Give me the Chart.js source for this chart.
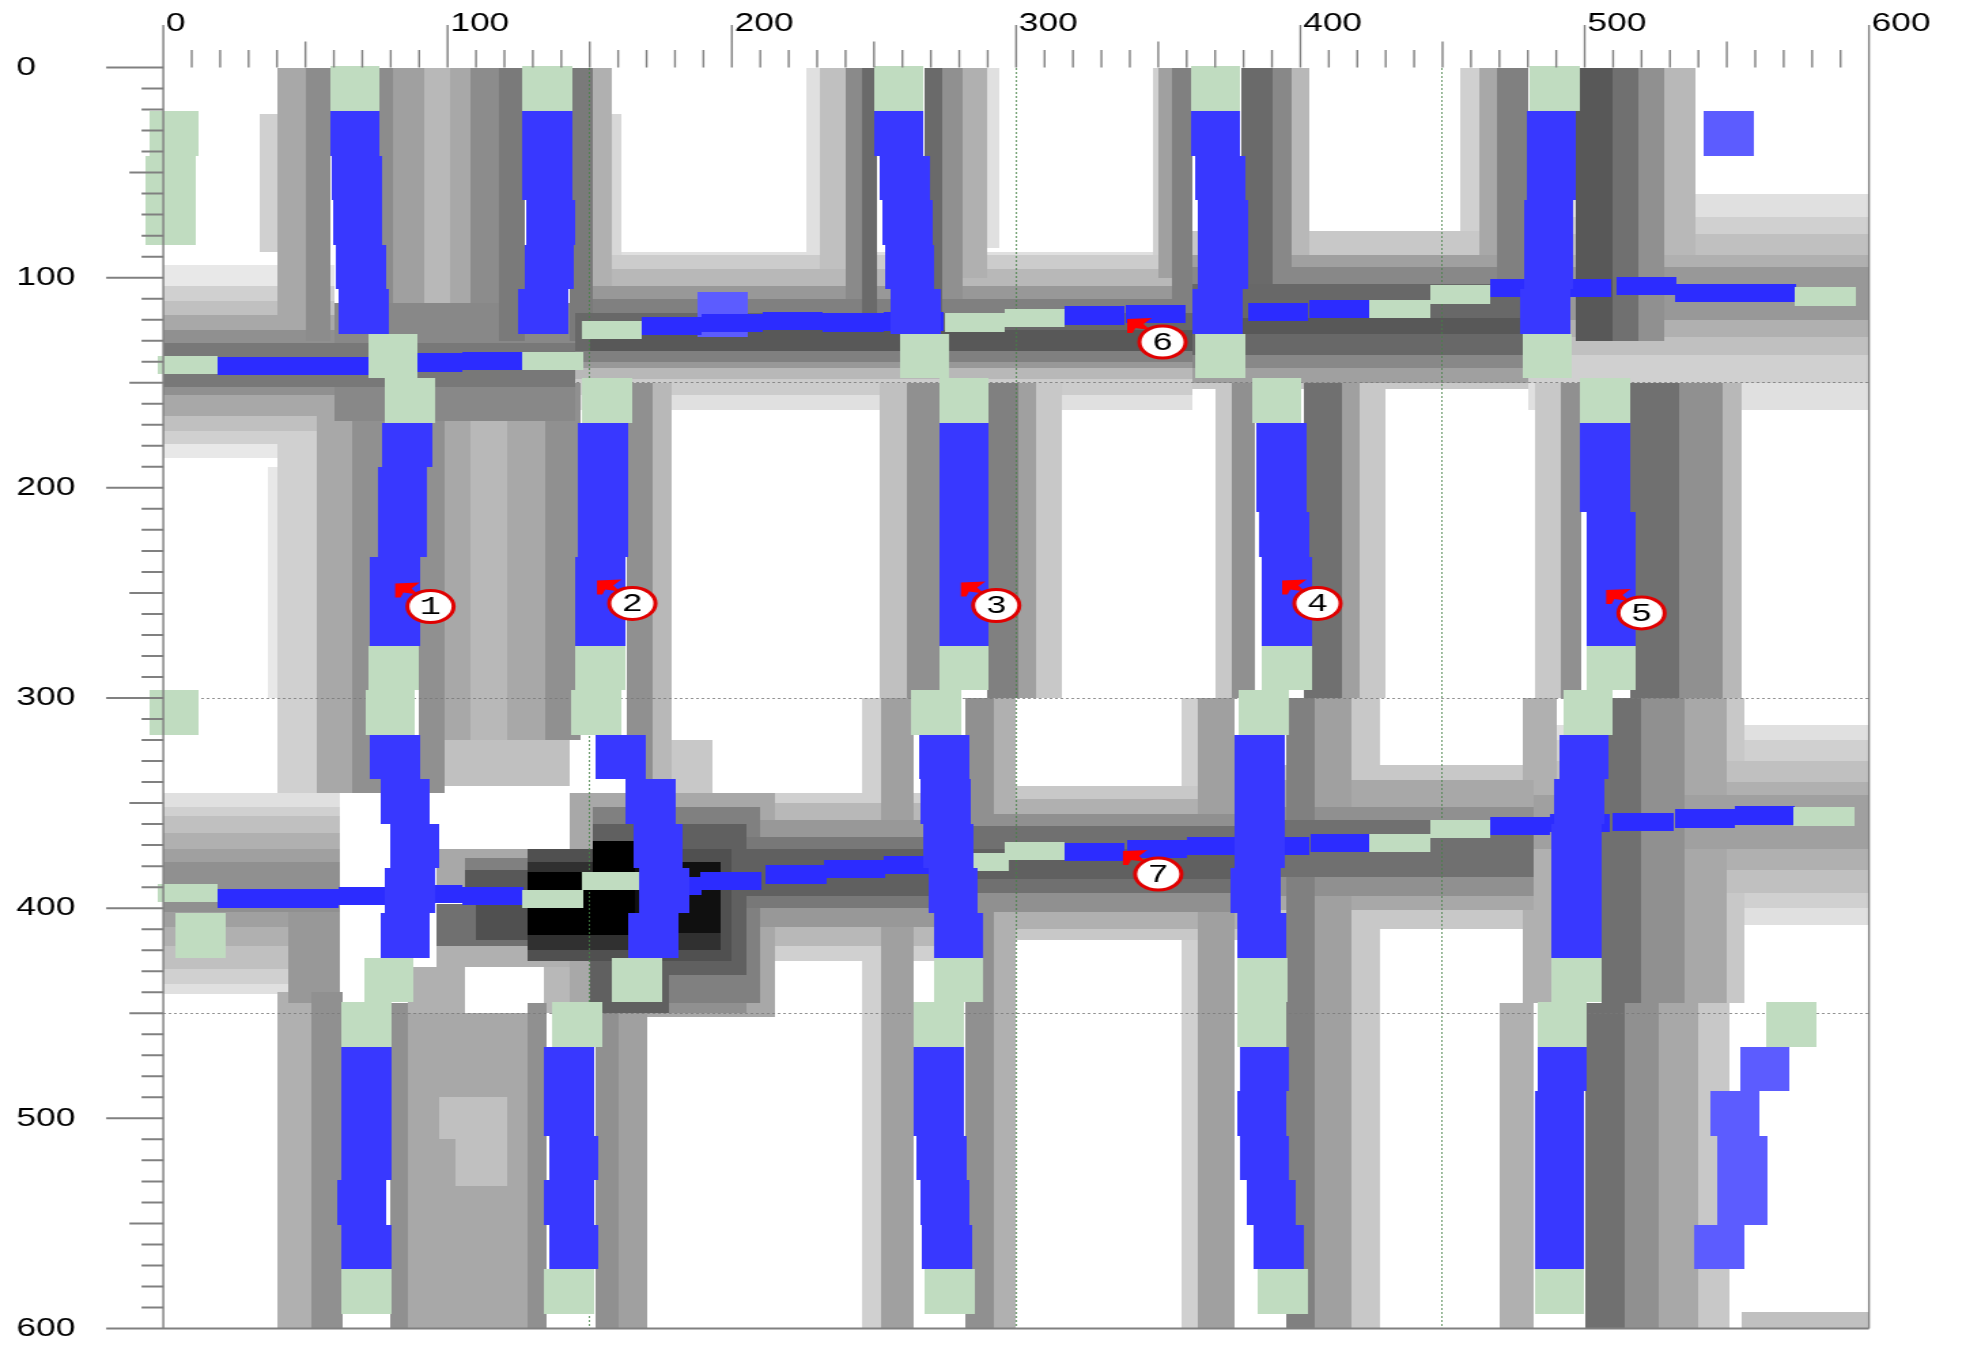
<!DOCTYPE html>
<html lang="en">
<head>
  <meta charset="UTF-8" />
  <title>Road map</title>
  <script src="https://cdn.jsdelivr.net/npm/chart.js"></script>
  <style>
    body {
      margin: 0;
      background: #ffffff;
    }
  </style>
</head>
<body>
  <!-- the source picture is stretched sideways, so the canvas is too -->
  <canvas id="mapa" width="1446" height="1345" style="display:block;width:1966px;height:1345px"></canvas>

  <script>
    // axis labels and dotted grid positions
    const tickLabels = [0, 100, 200, 300, 400, 500, 600];
    const gridDotted = [150, 300, 450];

    // numbered markers (circle centre, data units)
    const markerX = [94, 165, 293, 406, 520, 351.5, 350];
    const markerY = [256.5, 255, 256, 255, 259.5, 130.6, 383.8];
    const markerLabels = ['1', '2', '3', '4', '5', '6', '7'];

    // vertical road cells: [left x, top y, kind]  g = green, b = blue, l = light blue
    const roadA = [
      [58.6, -0.5, 'g'], [58.6, 20.7, 'b'], [59.4, 41.9, 'b'], [59.6, 63.1, 'b'], [60.7, 84.3, 'b'], [61.8, 105.5, 'b'],
      [72, 126.7, 'g'],
      [78, 147.9, 'g'], [77, 169.1, 'b'], [75.3, 190.3, 'b'], [75.3, 211.5, 'b'], [72.7, 232.7, 'b'], [72.7, 253.9, 'b'],
      [72.3, 275.1, 'g'], [71, 296.3, 'g'], [72.7, 317.5, 'b'], [76.3, 338.7, 'b'], [79.6, 359.9, 'b'], [78, 381.1, 'b'], [76.3, 402.3, 'b'], [70.5, 423.5, 'g'],
      [62.6, 444.7, 'g'], [62.6, 465.9, 'b'], [62.6, 487.1, 'b'], [62.6, 508.3, 'b'], [61, 529.5, 'b'], [62.6, 550.7, 'b'], [62.6, 571.9, 'g']
    ];
    const roadB = [
      [126.3, -0.5, 'g'], [126.3, 20.7, 'b'], [126.3, 41.9, 'b'], [127.5, 63.1, 'b'], [127, 84.3, 'b'], [125, 105.5, 'b'],
      [147.3, 147.9, 'g'], [146, 169.1, 'b'], [146, 190.3, 'b'], [146, 211.5, 'b'], [145, 232.7, 'b'], [145, 253.9, 'b'],
      [145, 275.1, 'g'], [143.5, 296.3, 'g'], [152, 317.5, 'b'], [162.7, 338.7, 'b'], [165.3, 359.9, 'b'], [167.5, 381.1, 'b'], [163.6, 402.3, 'b'], [158, 423.5, 'g'],
      [136.8, 444.7, 'g'], [134.1, 465.9, 'b'], [134.1, 487.1, 'b'], [135.7, 508.3, 'b'], [134.1, 529.5, 'b'], [135.7, 550.7, 'b'], [134.1, 571.9, 'g']
    ];
    const roadC = [
      [250, -0.5, 'g'], [250, 20.7, 'b'], [252, 41.9, 'b'], [253, 63.1, 'b'], [253.7, 84.3, 'b'], [256, 105.5, 'b'],
      [259, 126.7, 'g'],
      [273, 147.9, 'g'], [273, 169.1, 'b'], [273, 190.3, 'b'], [273, 211.5, 'b'], [273, 232.7, 'b'], [273, 253.9, 'b'],
      [273, 275.1, 'g'], [263, 296.3, 'g'], [266, 317.5, 'b'], [266.5, 338.7, 'b'], [267.5, 359.9, 'b'], [269, 381.1, 'b'], [271, 402.3, 'b'], [271, 423.5, 'g'],
      [264, 444.7, 'g'], [264, 465.9, 'b'], [264, 487.1, 'b'], [265, 508.3, 'b'], [266.3, 529.5, 'b'], [267, 550.7, 'b'], [268, 571.9, 'g']
    ];
    const roadD = [
      [361.3, -0.5, 'g'], [361.3, 20.7, 'b'], [363, 41.9, 'b'], [364, 63.1, 'b'], [364, 84.3, 'b'], [362, 105.5, 'b'],
      [363, 126.7, 'g'],
      [383, 147.9, 'g'], [384.5, 169.1, 'b'], [384.5, 190.3, 'b'], [385.5, 211.5, 'b'], [386.6, 232.7, 'b'], [386.6, 253.9, 'b'],
      [386.6, 275.1, 'g'], [378.4, 296.3, 'g'], [377, 317.5, 'b'], [377, 338.7, 'b'], [377, 359.9, 'b'], [375.4, 381.1, 'b'], [377.6, 402.3, 'b'], [378, 423.5, 'g'],
      [377.6, 444.7, 'g'], [378.6, 465.9, 'b'], [377.6, 487.1, 'b'], [378.6, 508.3, 'b'], [381, 529.5, 'b'], [383.5, 550.7, 'b'], [385, 571.9, 'g']
    ];
    const roadE = [
      [480.6, -0.5, 'g'], [479.6, 20.7, 'b'], [479.6, 41.9, 'b'], [478.5, 63.1, 'b'], [478.5, 84.3, 'b'], [477.5, 105.5, 'b'],
      [478, 126.7, 'g'],
      [498.4, 147.9, 'g'], [498.4, 169.1, 'b'], [498.4, 190.3, 'b'], [500.6, 211.5, 'b'], [500.6, 232.7, 'b'], [500.6, 253.9, 'b'],
      [500.6, 275.1, 'g'], [492.5, 296.3, 'g'], [491, 317.5, 'b'], [489.4, 338.7, 'b'], [488.5, 359.9, 'b'], [488.3, 381.1, 'b'], [488.3, 402.3, 'b'], [488.3, 423.5, 'g'],
      [483.4, 444.7, 'g'], [483.4, 465.9, 'b'], [482.3, 487.1, 'b'], [482.3, 508.3, 'b'], [482.3, 529.5, 'b'], [482.3, 550.7, 'b'], [482.3, 571.9, 'g']
    ];
    const looseCells = [
      [-5, 20.7, 'g'], [-6.1, 41.9, 'g'], [-6.1, 63.1, 'g'], [-5, 296.3, 'g'], [4.3, 402.3, 'g'],
      [542, 20.7, 'l'],
      [564, 444.7, 'g'], [554.6, 465.9, 'l'], [544, 487.1, 'l'], [546.6, 508.3, 'l'], [546.6, 529.5, 'l'], [538.6, 550.7, 'l']
    ];
    const hiddenCells = [[188, 107, 'l']];

    // horizontal road cells: [left x, top y, kind]
    const crossUpper = [
      [-2, 137.3, 'g'], [19.3, 137.8, 'b'], [40.5, 137.8, 'b'], [61.6, 137.8, 'b'], [84, 136, 'b'], [105.2, 135.4, 'b'], [126.3, 135.4, 'g'],
      [147.3, 120.6, 'g'], [168.3, 118.8, 'b'], [189.5, 117.3, 'b'], [210.8, 116.3, 'b'], [232, 117, 'b'], [253.2, 116.5, 'b'],
      [275, 117, 'g'], [296, 115, 'g'], [317, 113.6, 'b'], [338.5, 113, 'b'], [381.5, 112, 'b'], [403.2, 110.5, 'b'], [424.4, 110.5, 'g'],
      [445.5, 103.7, 'g'], [466.6, 100.6, 'b'], [488, 100.5, 'b'], [511, 99.6, 'b'], [532, 103, 'b'], [553, 103, 'b'], [574, 104.6, 'g']
    ];
    const crossLower = [
      [-2, 388.6, 'g'], [19.3, 391, 'b'], [40.5, 391, 'b'], [61.6, 390, 'b'], [84, 389, 'b'], [105.4, 390, 'b'], [126.3, 391.4, 'g'],
      [147.3, 382.7, 'g'], [168.3, 385, 'b'], [189, 382.7, 'b'], [212, 379.6, 'b'], [232.5, 377, 'b'], [253.6, 375, 'b'],
      [276, 373.7, 'g'], [296, 368.5, 'g'], [317, 369, 'b'], [339, 367.5, 'b'], [360, 366, 'b'], [381.7, 366, 'b'], [403.7, 364.6, 'b'], [424.4, 364.6, 'g'],
      [445.5, 358, 'g'], [466.6, 356.7, 'b'], [487.6, 355, 'b'], [510, 354.5, 'b'], [531.7, 353, 'b'], [552.7, 351.5, 'b'], [573.6, 352, 'g']
    ];

    // grey cost map: [x0, x1, y0, y1, grey level]
    const shadeTop = [
      [34, 40, 22, 88, 208], [40, 50, 0, 130, 168], [50, 59, 0, 130, 140], [76, 81, 0, 130, 140], [81, 92, 0, 130, 160],
      [92, 101, 0, 130, 184], [101, 108, 0, 130, 168], [108, 118, 0, 130, 140], [118, 127, 0, 130, 122], [143, 151, 0, 130, 122],
      [151, 158, 0, 130, 176], [158, 161, 22, 90, 216],
      [226, 231, 0, 100, 224], [231, 240, 0, 100, 192], [240, 246, 0, 130, 138], [246, 251, 0, 130, 106], [268, 274, 0, 130, 106],
      [274, 281, 0, 130, 144], [281, 290, 0, 100, 176], [290, 294, 0, 86, 224],
      [348, 350, 0, 100, 208], [350, 355, 0, 100, 160], [355, 362, 0, 130, 128], [379, 390, 0, 130, 106], [390, 397, 0, 130, 136],
      [397, 403, 0, 100, 184],
      [456, 463, 0, 100, 208], [463, 469, 0, 100, 168], [469, 480, 0, 130, 128], [497, 510, 0, 130, 88], [510, 519, 0, 130, 112],
      [519, 528, 0, 130, 144], [528, 539, 0, 100, 184]
    ];
    const shadeBandTop = [
      [0, 60, 94, 186, 232], [0, 60, 104, 179, 208], [0, 60, 111, 173, 192], [0, 60, 118, 166, 168], [0, 60, 125, 156, 144],
      [0, 145, 131, 152, 120], [60, 145, 112, 131, 136], [60, 145, 152, 168, 136],
      [145, 362, 88, 163, 224], [145, 362, 89, 156, 204], [145, 362, 96, 148, 184], [145, 362, 104, 143, 152],
      [145, 362, 110, 140, 128], [145, 362, 117, 135, 104], [150, 362, 125, 135, 88],
      [362, 480, 78, 153, 200], [362, 480, 89, 150, 160], [362, 480, 95, 143, 136], [362, 480, 103, 137, 104], [362, 480, 119, 127, 88],
      [480, 600, 60, 163, 224], [480, 600, 71, 150, 208], [480, 600, 79, 137, 192], [480, 600, 89, 128, 176], [480, 600, 95, 120, 152]
    ];
    const shadeMid = [
      [36.6, 40, 190, 300, 232], [40, 54, 150, 345, 208], [54, 66.6, 150, 345, 168], [66.6, 78, 150, 345, 144],
      [90, 99, 150, 345, 144], [99, 108, 150, 320, 168], [108, 121, 150, 320, 184], [121, 134.5, 150, 320, 168], [134.5, 147, 150, 320, 144],
      [99, 143, 320, 342, 192], [163, 172, 150, 345, 144], [172, 179, 150, 345, 184], [179, 193, 320, 350, 200],
      [252, 261.5, 150, 300, 192], [261.5, 273, 150, 300, 144], [290, 301, 150, 300, 128], [301, 307, 150, 300, 160], [307, 316, 150, 300, 200],
      [370, 376, 150, 300, 200], [376, 384, 150, 300, 144], [401, 414.5, 150, 300, 112], [414.5, 421, 150, 300, 160], [421, 430, 150, 300, 200],
      [482.6, 491.4, 150, 300, 200], [491.4, 499, 150, 300, 144], [516, 533, 150, 300, 112], [533, 548.5, 150, 300, 144], [548.5, 555, 150, 300, 184]
    ];
    const shadeBandLow = [
      [0, 62, 345, 441, 224], [0, 62, 352, 436, 208], [0, 62, 356, 429, 192], [0, 62, 364, 418, 176], [0, 62, 372, 409, 160],
      [0, 62, 378, 402, 144], [44, 62, 400, 445, 152],
      [96, 128, 372, 392, 168], [106, 128, 376, 392, 128], [106, 128, 382, 392, 88],
      [96, 128, 398, 418, 112], [110, 128, 398, 415, 80], [96, 150, 418, 428, 176], [86, 106, 428, 450, 176], [134, 143, 428, 450, 184],
      [143, 215, 345, 452, 168], [151, 210, 352, 445, 128], [151, 205, 360, 432, 96], [128, 200, 372, 425, 80],
      [128, 196, 378, 420, 48], [166, 196, 378, 412, 16], [128, 166, 383, 413, 0], [151, 166, 368, 413, 0],
      [150, 178, 420, 450, 96], [178, 205, 420, 450, 144],
      [195, 275, 345, 425, 208], [195, 275, 350, 418, 184], [195, 275, 358, 409, 152], [195, 275, 366, 400, 120], [195, 275, 372, 394, 96],
      [275, 380, 342, 415, 200], [275, 380, 348, 410, 176], [275, 380, 355, 402, 144], [275, 380, 361, 393, 112], [275, 380, 372, 386, 96],
      [380, 482, 332, 410, 200], [380, 482, 339, 401, 168], [380, 482, 352, 394, 144], [380, 482, 358, 385, 112],
      [482, 600, 313, 408, 224], [482, 600, 320, 400, 208], [482, 600, 330, 393, 192], [482, 600, 340, 382, 176], [482, 600, 346, 372, 160]
    ];
    const shadeLow = [
      [40, 52, 440, 600, 176], [52, 63, 440, 600, 144], [80, 86, 445, 600, 144], [86, 128, 450, 600, 168], [128, 135, 445, 600, 144],
      [152, 160, 445, 600, 144], [160, 170, 445, 600, 160],
      [246, 252.5, 300, 600, 208], [252.5, 264, 300, 600, 160], [282, 292, 300, 600, 144], [292, 300, 300, 600, 176],
      [358, 364, 300, 600, 208], [364, 377, 300, 600, 160], [395, 405, 300, 600, 128], [405, 418, 300, 600, 160], [418, 428, 300, 600, 200],
      [478, 490, 300, 445, 176], [506, 520, 300, 445, 112], [520, 535, 300, 445, 144], [535, 550, 300, 445, 168], [550, 556, 300, 445, 200],
      [470, 482, 445, 600, 176], [500, 514, 445, 600, 112], [514, 526, 445, 600, 144], [526, 540, 445, 600, 168], [540, 551, 445, 600, 200],
      [555, 600, 592, 600, 192]
    ];
    // lighter patches that sit inside darker strips
    const shadePatch = [
      [97, 121, 490, 510, 192], [103, 121, 510, 532, 192]
    ];

    const cellColor = { g: '#c0dcc0', b: '#3838ff', l: '#5c5cff' };
    const crossBlue = '#2c2cff';

    function px(chart, v) { return Math.round(chart.scales.x.getPixelForValue(v)); }
    function py(chart, v) { return Math.round(chart.scales.y.getPixelForValue(v)); }

    function fillBox(chart, x0, x1, y0, y1, color) {
      const l = px(chart, x0), r = px(chart, x1), t = py(chart, y0), b = py(chart, y1);
      chart.ctx.fillStyle = color;
      chart.ctx.fillRect(l, t, r - l, b - t);
    }

    // grey field first, so Chart.js grid lines come on top of it
    const shadePlugin = {
      id: 'shade',
      beforeDraw(chart) {
        const { ctx, chartArea: a } = chart;
        ctx.save();
        ctx.beginPath();
        ctx.rect(a.left, a.top, a.right - a.left, a.bottom - a.top);
        ctx.clip();
        const all = [...shadeTop, ...shadeBandTop, ...shadeMid, ...shadeBandLow, ...shadeLow];
        all.sort((p, q) => q[4] - p[4]);
        all.concat(shadePatch).forEach(([x0, x1, y0, y1, g]) => {
          fillBox(chart, x0, x1, y0, y1, `rgb(${g},${g},${g})`);
        });
        ctx.restore();
      }
    };

    const cellPlugin = {
      id: 'cells',
      beforeDatasetsDraw(chart) {
        const vw = 17.5, vh = 21.2, hw = 21.2, hh = 8.7;
        hiddenCells.forEach(([x, y, k]) => fillBox(chart, x, x + vw, y, y + vh, cellColor[k]));
        [...crossUpper, ...crossLower].forEach(([x, y, k]) => {
          fillBox(chart, x, x + hw, y, y + hh, k === 'b' ? crossBlue : cellColor[k]);
        });
        [...roadA, ...roadB, ...roadC, ...roadD, ...roadE, ...looseCells].forEach(([x, y, k]) => {
          fillBox(chart, x, x + vw, y, y + vh, cellColor[k]);
        });
      }
    };

    // tick marks of three lengths plus the frame lines
    const framePlugin = {
      id: 'frame',
      afterDraw(chart) {
        const { ctx, chartArea: a } = chart;
        ctx.save();
        ctx.strokeStyle = '#808080';
        ctx.lineWidth = 1.4;
        ctx.beginPath();
        for (let v = 0; v <= 600; v += 10) {
          const len = v % 100 === 0 ? 42.5 : (v % 50 === 0 ? 26 : 17.5);
          const x = chart.scales.x.getPixelForValue(v);
          ctx.moveTo(x, a.top - len);
          ctx.lineTo(x, a.top);
        }
        ctx.moveTo(a.left, a.top);
        ctx.lineTo(a.left, a.bottom);
        ctx.moveTo(a.right, a.top);
        ctx.lineTo(a.right, a.bottom);
        ctx.stroke();

        ctx.lineWidth = 2;
        ctx.beginPath();
        for (let v = 0; v <= 600; v += 10) {
          const len = v % 100 === 0 ? 42 : (v % 50 === 0 ? 25 : 16);
          const y = chart.scales.y.getPixelForValue(v);
          ctx.moveTo(a.left - len, y);
          ctx.lineTo(a.left, y);
        }
        ctx.moveTo(a.left, a.bottom);
        ctx.lineTo(a.right, a.bottom);
        ctx.stroke();
        ctx.restore();
      }
    };

    const markerPlugin = {
      id: 'markers',
      afterDraw(chart) {
        const ctx = chart.ctx;
        ctx.save();
        chart.getDatasetMeta(0).data.forEach((pt, i) => {
          const cx = pt.x, cy = pt.y;
          ctx.fillStyle = '#ff0000';
          ctx.beginPath();
          ctx.moveTo(cx - 26, cy - 23);
          ctx.lineTo(cx - 8, cy - 24);
          ctx.lineTo(cx - 14, cy - 18);
          ctx.lineTo(cx - 9, cy - 12);
          ctx.lineTo(cx - 20, cy - 14);
          ctx.lineTo(cx - 22, cy - 9);
          ctx.lineTo(cx - 26, cy - 9);
          ctx.closePath();
          ctx.fill();

          ctx.beginPath();
          ctx.ellipse(cx, cy, 17, 16, 0, 0, Math.PI * 2);
          ctx.fillStyle = '#ffffff';
          ctx.fill();
          ctx.lineWidth = 3;
          ctx.strokeStyle = '#e00000';
          ctx.stroke();

          ctx.fillStyle = '#000000';
          ctx.font = '26px "Liberation Mono"';
          ctx.textAlign = 'center';
          ctx.textBaseline = 'middle';
          ctx.fillText(markerLabels[i], cx, cy + 1);
        });
        ctx.restore();
      }
    };

    const labelFont = { family: 'Liberation Sans', size: 26 };

    new Chart(document.getElementById('mapa'), {
      type: 'scatter',
      data: {
        datasets: [{
          data: markerX.map((x, i) => ({ x, y: markerY[i] })),
          pointRadius: 0,
          pointHoverRadius: 0
        }]
      },
      options: {
        responsive: false,
        animation: false,
        devicePixelRatio: 1,
        events: [],
        layout: { padding: { left: 12, right: 61.6, top: 0, bottom: 16.5 } },
        plugins: {
          legend: { display: false },
          tooltip: { enabled: false }
        },
        scales: {
          x: {
            type: 'linear',
            position: 'top',
            min: 0,
            max: 600,
            afterFit: s => { s.height = 67.5; },
            ticks: {
              stepSize: 50,
              autoSkip: false,
              maxRotation: 0,
              minRotation: 0,
              align: 'start',
              labelOffset: 2,
              padding: 28,
              color: '#000',
              font: labelFont,
              callback: v => tickLabels.includes(v) ? String(v) : ''
            },
            grid: {
              drawTicks: false,
              lineWidth: 1,
              color: ctx => (ctx.tick && gridDotted.includes(ctx.tick.value)) ? 'rgba(70,130,70,0.8)' : 'rgba(0,0,0,0)'
            },
            border: { display: false, dash: [2, 2] }
          },
          y: {
            type: 'linear',
            position: 'left',
            reverse: true,
            min: 0,
            max: 600,
            afterFit: s => { s.width = 108.1; },
            ticks: {
              stepSize: 50,
              autoSkip: false,
              crossAlign: 'far',
              padding: 0,
              color: '#000',
              font: labelFont,
              callback: v => tickLabels.includes(v) ? String(v) : ''
            },
            grid: {
              drawTicks: false,
              lineWidth: 1,
              color: ctx => (ctx.tick && gridDotted.includes(ctx.tick.value)) ? 'rgba(120,120,120,0.8)' : 'rgba(0,0,0,0)'
            },
            border: { display: false, dash: [2, 2] }
          }
        }
      },
      plugins: [shadePlugin, cellPlugin, framePlugin, markerPlugin]
    });
  </script>
</body>
</html>
